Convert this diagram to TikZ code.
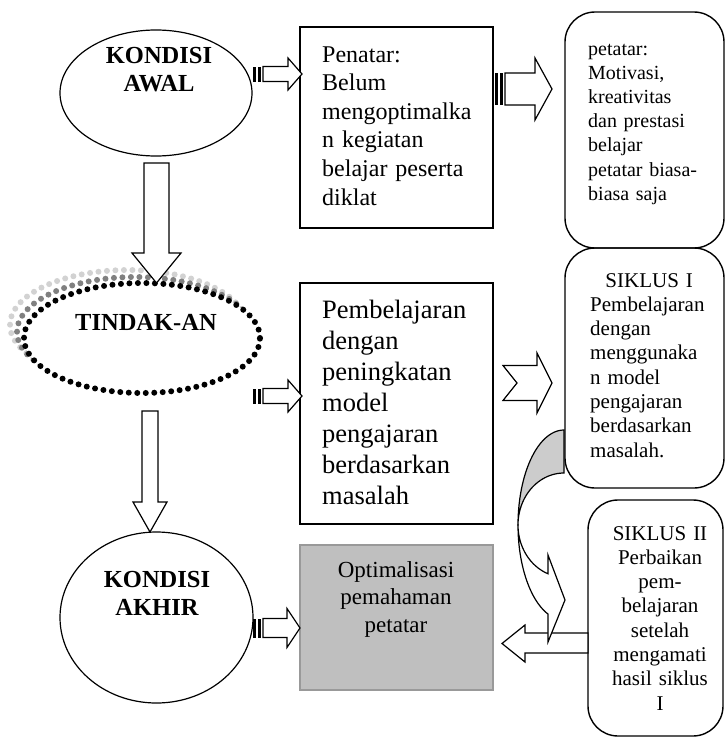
\documentclass[tikz,border=0pt]{standalone}
\usepackage{fontspec}
\setmainfont{Liberation Serif}
\usetikzlibrary{shapes.geometric}

\tikzset{
	blockarrow/.style={draw, fill=white, line width=1.2pt, line join=miter},
	plainbox/.style={draw, line width=1.4pt, inner sep=0pt},
	roundbox/.style={draw, line width=1.4pt, rounded corners=30pt, inner sep=0pt},
	oval/.style={ellipse, draw, fill=white, line width=1.2pt, inner sep=0pt},
	beads/.style={line width=6pt, dash pattern=on 0pt off 8.5pt, line cap=round},
	title/.style={font=\fontsize{24.5}{28}\selectfont\bfseries, align=center, text width=170pt, inner sep=0pt, anchor=base},
	lefttext/.style={align=left, inner sep=0pt, anchor=base west},
	midtext/.style={align=center, inner sep=0pt, anchor=base}
}

% tail x, tip x, mid y, shaft half, head half, head base x
\newcommand{\stripedarrow}[6]{%
	\fill (#1,{#3-#4}) rectangle ({#1+2.5},{#3+#4});
	\fill ({#1+4.5},{#3-#4}) rectangle ({#1+8},{#3+#4});
	\draw[blockarrow] ({#1+10},{#3-#4}) -- (#6,{#3-#4}) -- (#6,{#3-#5}) -- (#2,#3)
		-- (#6,{#3+#5}) -- (#6,{#3+#4}) -- ({#1+10},{#3+#4}) -- cycle;
}
% mid x, top y, tip y, shaft half, head half, head base y
\newcommand{\vblockarrow}[6]{%
	\draw[blockarrow] ({#1-#4},#2) -- ({#1+#4},#2) -- ({#1+#4},#6) -- ({#1+#5},#6)
		-- (#1,#3) -- ({#1-#5},#6) -- ({#1-#4},#6) -- cycle;
}

\begin{document}
\begin{tikzpicture}[x=1pt, y=-1pt]
	\useasboundingbox (0,0) rectangle (726,739);
	
	% left column
	\node[oval, minimum width=192pt, minimum height=126pt] (awal) at (156,93) {};
	\node[title] (awaltxt) at (159,63) {KONDISI\\AWAL};
	
	\draw[gray!35, beads] (128,325) ellipse (118pt and 55pt);
	\draw[gray, beads] (135,332) ellipse (118pt and 55pt);
	\node[ellipse, fill=white, draw=black, beads, minimum width=236pt, minimum height=110pt, inner sep=0pt] (tindakan) at (142,338) {};
	\node[title] (tindakantxt) at (146,330) {TINDAK-AN};
	
	\node[oval, minimum width=193pt, minimum height=171pt] (akhir) at (156.5,617.5) {};
	\node[title] (akhirtxt) at (157,587) {KONDISI\\AKHIR};
	
	\vblockarrow{156.5}{163}{283}{12.5}{24.5}{253}
	\vblockarrow{150}{411}{532}{8}{17}{502}
	
	% middle column
	\node[plainbox, minimum width=193pt, minimum height=201pt] (penatar) at (396.5,127.5) {};
	\node[lefttext, text width=170pt, font=\fontsize{24}{28.6}\selectfont] (penatartxt) at (322,62)
		{Penatar:\\Belum\\mengoptimalka\\n kegiatan\\belajar peserta\\diklat};
	
	\node[plainbox, minimum width=193pt, minimum height=241pt] (pembel) at (396.5,403.5) {};
	\node[lefttext, text width=170pt, font=\fontsize{26.5}{31}\selectfont] (pembeltxt) at (322,318)
		{Pembelajaran\\dengan\\peningkatan\\model\\pengajaran\\berdasarkan\\masalah};
	
	\node[plainbox, draw=black!40, fill=black!25, minimum width=193pt, minimum height=145pt] (optim) at (396.5,617.5) {};
	\node[midtext, text width=180pt, font=\fontsize{23}{27.5}\selectfont] (optimtxt) at (396,577)
		{Optimalisasi\\pemahaman\\petatar};
	
	\stripedarrow{253}{302}{74}{7.5}{16}{288}
	\stripedarrow{253}{302}{396}{7.5}{16}{288}
	\stripedarrow{253}{300}{628}{9.5}{19.5}{287}
	\stripedarrow{495}{552}{89}{16}{31}{535}
	
	% right column
	\node[roundbox, minimum width=159pt, minimum height=236pt] (motivasi) at (644.5,130) {};
	\node[lefttext, text width=130pt, font=\fontsize{20}{24.2}\selectfont] (motivasitxt) at (588,55)
		{petatar:\\Motivasi,\\kreativitas\\dan prestasi\\belajar\\petatar biasa-\\biasa saja};
	
	\node[roundbox, minimum width=159pt, minimum height=240pt] (siklus1) at (644.5,368) {};
	\node[lefttext, text width=118pt, font=\fontsize{21}{24.3}\selectfont] (siklus1txt) at (590,287)
		{\makebox[118pt][c]{SIKLUS I}\\Pembelajaran\\dengan\\menggunaka\\n model\\pengajaran\\berdasarkan\\masalah.};
	
	\node[roundbox, minimum width=135pt, minimum height=236pt] (siklus2) at (655.5,618) {};
	\node[midtext, text width=130pt, font=\fontsize{21}{24.3}\selectfont] (siklus2txt) at (660,540)
		{SIKLUS II\\Perbaikan\\pem-\\belajaran\\setelah\\mengamati\\hasil siklus\\I};
	
	\draw[blockarrow] (503,365.5) -- (537,365.5) -- (537,353) -- (552,383) -- (537,413)
		-- (537,400.5) -- (503,400.5) -- (517,383) -- cycle;
	\draw[blockarrow] (588,633) -- (525,633) -- (525,625) -- (502,643.5) -- (525,662)
		-- (525,653) -- (588,653) -- cycle;
	
	% curved arrow
	\draw[blockarrow, fill=gray!40] plot[domain=90:180, samples=30] ({564+46*cos(\x)},{525-95*sin(\x)})
		-- plot[domain=180:90, samples=30] ({564+46*cos(\x)},{525-52*sin(\x)}) -- cycle;
	\draw[blockarrow] plot[domain=180:249.6, samples=30] ({564+46*cos(\x)},{525-95*sin(\x)})
		-- (548,642) -- (565,600) -- (548,555)
		-- plot[domain=249.6:180, samples=30] ({564+46*cos(\x)},{525-52*sin(\x)}) -- cycle;
\end{tikzpicture}
\end{document}
